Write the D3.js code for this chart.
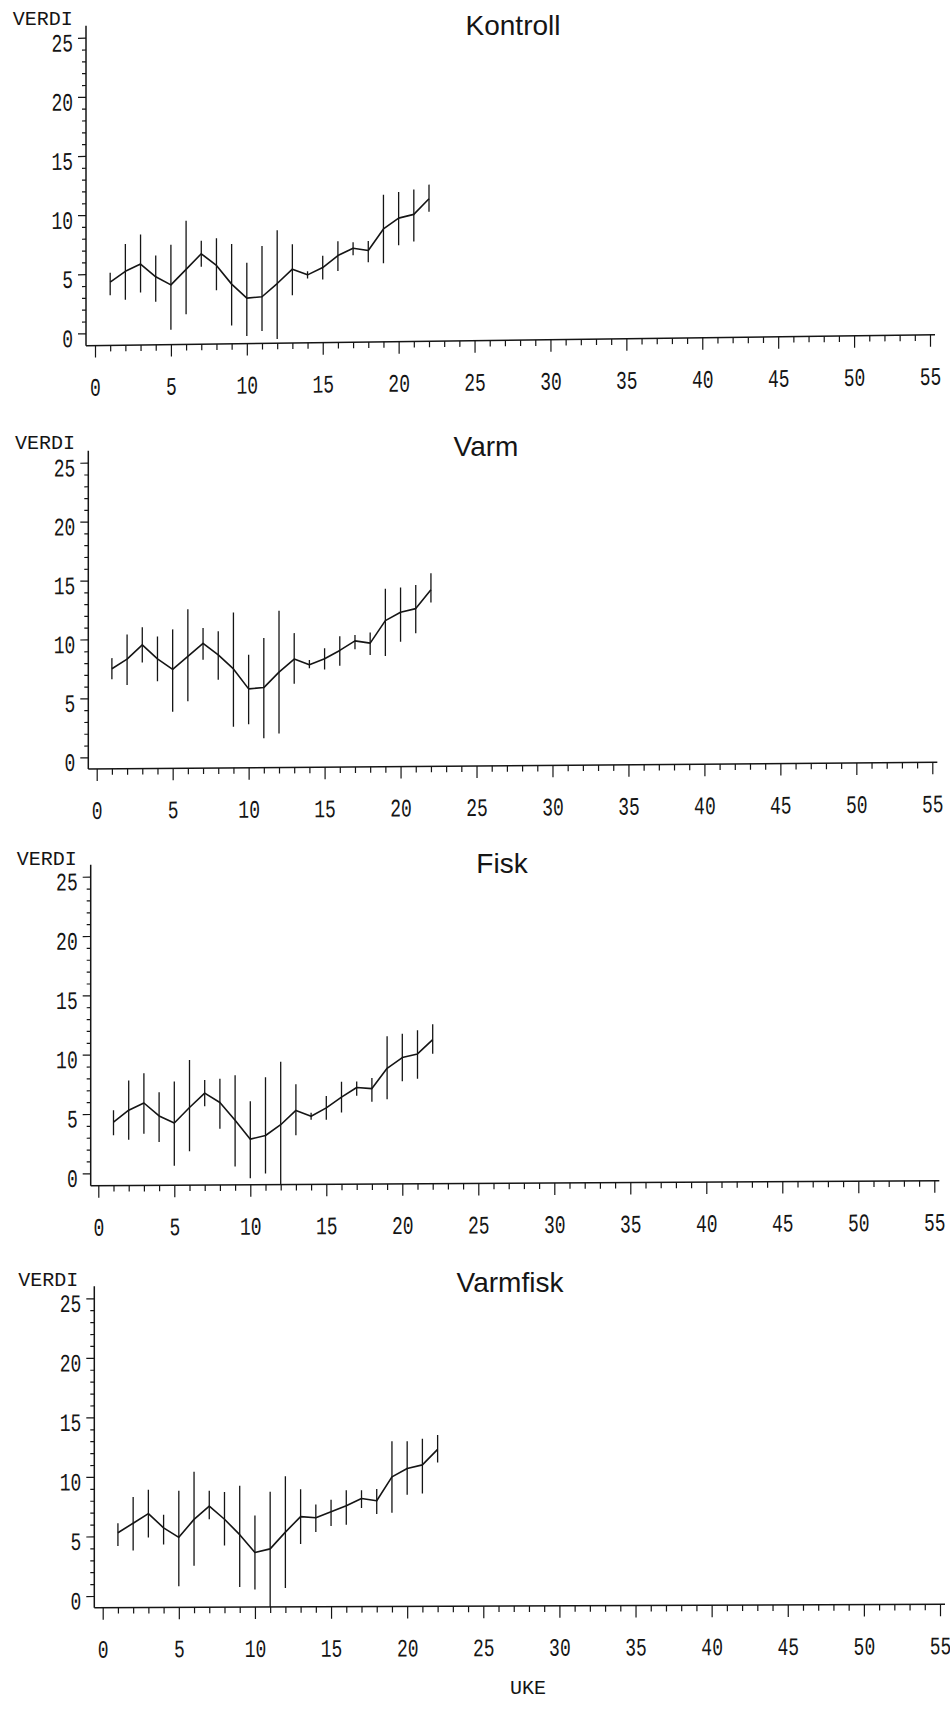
<!DOCTYPE html>
<html>
<head>
<meta charset="utf-8">
<script src="https://cdn.jsdelivr.net/npm/d3@7"></script>
<style>
  body { margin: 0; background: #fff; }
</style>
</head>
<body>
<svg width="950" height="1710"></svg>
<script>
// weeks (UKE) and the four series
var weeks = [1,2,3,4,5,6,7,8,9,10,11,12,13,14,15,16,17,18,19,20,21,22];
var xTickVals = d3.range(0, 56);
var yTickVals = d3.range(0, 26);

var kontrollMean = [4.3,5.2,5.8,4.7,4.0,5.3,6.6,5.6,4.0,2.8,2.9,4.0,5.2,4.7,5.3,6.3,6.9,6.7,8.5,9.4,9.7,11.0];
var kontrollHi   = [5.1,7.5,8.3,6.5,7.4,9.4,7.7,7.9,7.4,5.8,7.2,8.5,7.3,5.0,6.3,7.5,7.4,7.5,11.4,11.6,11.8,12.2];
var kontrollLo   = [3.2,2.8,3.4,2.6,0.2,1.5,5.5,3.5,0.5,-0.4,0.0,-0.7,3.0,4.4,4.3,5.0,6.3,5.7,5.6,7.1,7.4,9.9];

var varmMean = [7.5,8.3,9.5,8.3,7.4,8.5,9.6,8.6,7.4,5.7,5.8,7.1,8.2,7.7,8.2,8.9,9.7,9.5,11.4,12.1,12.4,14.0];
var varmHi   = [8.4,10.4,11.0,10.2,10.8,12.5,10.9,10.6,12.2,8.6,10.0,12.3,10.4,8.1,9.1,10.1,10.2,10.4,14.1,14.2,14.4,15.4];
var varmLo   = [6.6,6.1,8.0,6.4,3.8,4.7,8.2,6.5,2.5,2.7,1.5,1.9,6.1,7.4,7.3,7.6,9.0,8.5,8.4,9.6,10.3,12.9];

var fiskMean = [4.3,5.3,5.9,4.8,4.2,5.5,6.7,5.9,4.4,2.8,3.1,4.0,5.2,4.7,5.4,6.3,7.1,7.0,8.7,9.6,9.9,11.1];
var fiskHi   = [5.3,7.8,8.4,6.8,7.7,9.5,7.8,7.9,8.2,6.0,8.0,9.3,7.4,5.0,6.4,7.6,7.6,7.9,11.4,11.6,11.9,12.4];
var fiskLo   = [3.2,2.8,3.3,2.6,0.6,1.8,5.6,3.7,0.5,-0.5,-0.1,-1.0,3.1,4.4,4.4,5.0,6.4,5.9,6.1,7.6,7.8,9.9];

var varmfiskMean = [5.3,6.1,6.9,5.7,4.9,6.4,7.5,6.4,5.1,3.6,3.9,5.3,6.6,6.5,7.0,7.5,8.1,7.9,9.9,10.6,10.9,12.2];
var varmfiskHi   = [6.1,8.3,8.9,6.8,8.8,10.4,8.8,8.7,9.2,6.7,8.7,10.0,8.9,7.6,8.0,8.8,8.8,8.9,12.9,12.9,13.1,13.4];
var varmfiskLo   = [4.2,3.8,4.9,4.3,0.8,2.5,6.4,4.2,0.7,0.5,-1.0,0.6,4.3,5.3,5.8,5.9,7.3,6.8,6.9,8.4,8.5,11.1];

var ink = "#151515";
var monoFont = "'Liberation Mono', 'DejaVu Sans Mono', monospace";
var stretch = 1.4; // the scanned digits are tall and narrow

// page layout of each panel (the scan is slightly tilted, hence skew)
var panels = [
  {title: "Kontroll", mean: kontrollMean, lo: kontrollLo, hi: kontrollHi,
   ax: 86, base: 345.7, y0: 333.3, y25: 37.7, x0: 95, x55: 930, skew: -0.74,
   tx: 513, ty: 35, vx: 12.7, vy: 25},
  {title: "Varm", mean: varmMean, lo: varmLo, hi: varmHi,
   ax: 88.3, base: 769, y0: 757.3, y25: 462.7, x0: 96.7, x55: 932.3, skew: -0.45,
   tx: 486, ty: 456, vx: 15, vy: 449},
  {title: "Fisk", mean: fiskMean, lo: fiskLo, hi: fiskHi,
   ax: 90.7, base: 1185.7, y0: 1173.3, y25: 876.7, x0: 98.3, x55: 934.3, skew: -0.34,
   tx: 502, ty: 873, vx: 16.7, vy: 865},
  {title: "Varmfisk", mean: varmfiskMean, lo: varmfiskLo, hi: varmfiskHi,
   ax: 94.3, base: 1607.7, y0: 1596, y25: 1298.3, x0: 102.7, x55: 940, skew: -0.23,
   tx: 510, ty: 1292, vx: 18.3, vy: 1286}
];

var svg = d3.select("svg")
    .style("background-color", "white");

panels.forEach(function(p) {
    var x = d3.scaleLinear().domain([0, 55]).range([p.x0, p.x55]);
    var y = d3.scaleLinear().domain([0, 25]).range([p.y0, p.y25]);

    var g = svg.append("g")
        .attr("transform", "translate(" + p.ax + "," + p.base + ") skewY(" + p.skew + ") translate(" + (-p.ax) + "," + (-p.base) + ")");

    // axis lines
    g.append("line")
        .attr("x1", p.ax).attr("x2", p.ax)
        .attr("y1", y(25) - 12).attr("y2", p.base)
        .attr("stroke", ink).attr("stroke-width", 1.5);
    g.append("line")
        .attr("x1", p.ax).attr("x2", x(55) + 5)
        .attr("y1", p.base).attr("y2", p.base)
        .attr("stroke", ink).attr("stroke-width", 1.5);

    // y axis ticks + labels
    var gy = g.append("g")
        .attr("transform", "translate(" + p.ax + ",0)")
        .call(d3.axisLeft(y).tickValues(yTickVals).tickSize(4)
            .tickFormat(function(d) { return d % 5 == 0 ? d : ""; }))
        .attr("font-family", monoFont)
        .attr("font-size", 18);
    gy.select(".domain").remove();
    gy.selectAll(".tick line")
        .attr("x2", function(d) { return d % 5 == 0 ? -8 : -4; })
        .attr("stroke", ink).attr("stroke-width", 1.2);
    gy.selectAll(".tick text")
        .attr("fill", ink)
        .attr("x", -13)
        .attr("dy", null)
        .attr("y", 13 / stretch)
        .attr("transform", "scale(1," + stretch + ")");

    // x axis ticks + labels
    var gx = g.append("g")
        .attr("transform", "translate(0," + p.base + ")")
        .call(d3.axisBottom(x).tickValues(xTickVals).tickSize(6)
            .tickFormat(function(d) { return d % 5 == 0 ? d : ""; }))
        .attr("font-family", monoFont)
        .attr("font-size", 18);
    gx.select(".domain").remove();
    gx.selectAll(".tick line")
        .attr("y2", function(d) { return d % 5 == 0 ? 12 : 6; })
        .attr("stroke", ink).attr("stroke-width", 1.2);
    gx.selectAll(".tick text")
        .attr("fill", ink)
        .attr("dy", null)
        .attr("y", 50 / stretch)
        .attr("transform", "scale(1," + stretch + ")");

    // error bars (cut off at the horizontal axis)
    g.append("g")
        .selectAll("line")
        .data(weeks)
        .enter()
        .append("line")
        .attr("x1", function(w) { return x(w); })
        .attr("x2", function(w) { return x(w); })
        .attr("y1", function(w, i) { return Math.min(y(p.lo[i]), p.base); })
        .attr("y2", function(w, i) { return y(p.hi[i]); })
        .attr("stroke", ink)
        .attr("stroke-width", 1.3);

    // mean line
    var line = d3.line()
        .x(function(w) { return x(w); })
        .y(function(w, i) { return y(p.mean[i]); });
    g.append("path")
        .datum(weeks)
        .attr("d", line)
        .attr("fill", "none")
        .attr("stroke", ink)
        .attr("stroke-width", 1.6)
        .attr("stroke-linejoin", "round");

    // VERDI label and panel title
    svg.append("text")
        .attr("x", p.vx).attr("y", p.vy)
        .attr("font-family", monoFont)
        .attr("font-size", 20)
        .attr("fill", ink)
        .text("VERDI");
    svg.append("text")
        .attr("x", p.tx).attr("y", p.ty)
        .attr("text-anchor", "middle")
        .attr("font-family", "'Liberation Sans', Arial, sans-serif")
        .attr("font-size", 28)
        .attr("fill", ink)
        .text(p.title);
});

svg.append("text")
    .attr("x", 528).attr("y", 1694)
    .attr("text-anchor", "middle")
    .attr("font-family", monoFont)
    .attr("font-size", 20)
    .attr("fill", ink)
    .text("UKE");
</script>
</body>
</html>
